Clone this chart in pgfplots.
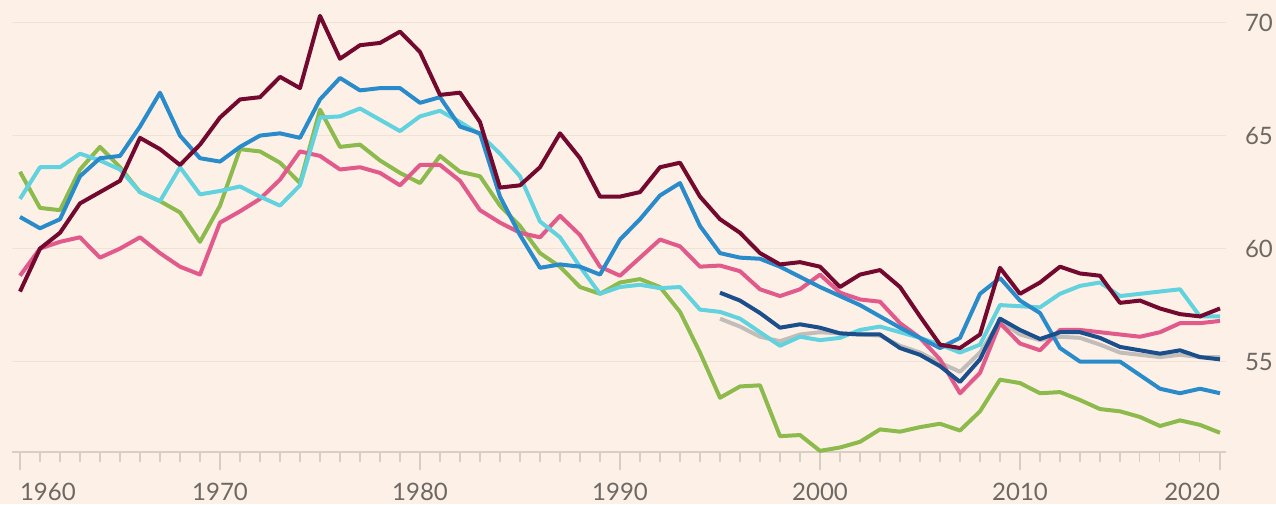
\documentclass[border=0pt]{standalone}
\usepackage{fontspec}
\setmainfont{Lato}
\usepackage{pgfplots}
\pgfplotsset{compat=1.18}
\definecolor{bg}{HTML}{FDF1E7}
\definecolor{gridc}{HTML}{F0E2D6}
\definecolor{tickc}{HTML}{D9CEC4}
\definecolor{txt}{HTML}{6E6864}
\definecolor{cmaroon}{HTML}{74092F}
\definecolor{cblue}{HTML}{2A8BCB}
\definecolor{ccyan}{HTML}{62D2DE}
\definecolor{cpink}{HTML}{E15A8B}
\definecolor{cgreen}{HTML}{8DBA4C}
\definecolor{cnavy}{HTML}{1B4F8C}
\definecolor{cgray}{HTML}{C2BDB9}
\begin{document}
\begin{tikzpicture}[x=1pt,y=1pt]
\fill[bg] (0,0) rectangle (638,252);
\begin{axis}[
  at={(6pt,26pt)}, anchor=south west,
  scale only axis, width=607pt, height=226pt,
  xmin=1959.6, xmax=2020.3, ymin=51, ymax=71,
  clip=false,
  axis x line*=bottom, axis y line*=right,
  y axis line style={draw=none},
  x axis line style={draw=tickc, line width=0.6pt},
  ytick={55,60,65,70},
  ymajorgrids, grid style={color=gridc, line width=0.7pt},
  y tick style={draw=none},
  yticklabel style={anchor=west, xshift=-3pt},
  xtick={1960,1970,...,2020},
  xticklabels={\makebox[0pt][l]{1960},1970,1980,1990,2000,2010,\makebox[0pt][r]{2020}},
  minor xtick={1961,1962,...,2019},
  tick align=outside,
  major tick length=9pt, minor tick length=5pt,
  x tick style={draw=tickc, line width=0.6pt},
  xticklabel style={anchor=north, yshift=-3pt},
  /pgf/number format/assume math mode=true,
  ticklabel style={font=\fontsize{12}{14}\selectfont, text=txt},
  every axis plot/.append style={line width=2pt, line join=round, mark=none},
]
\addplot[cgray] coordinates {
(1995,56.9)(1996,56.55)(1997,56.1)(1998,55.9)(1999,56.2)(2000,56.3)(2001,56.25)(2002,56.2)(2003,56.15)(2004,55.7)(2005,55.4)(2006,54.95)(2007,54.55)(2008,55.4)(2009,56.8)(2010,56.2)(2011,55.95)(2012,56.1)(2013,56.05)(2014,55.75)(2015,55.4)(2016,55.3)(2017,55.2)(2018,55.3)(2019,55.2)(2020,55.2)};
\addplot[cgreen] coordinates {
(1960,63.4)(1961,61.8)(1962,61.7)(1963,63.5)(1964,64.5)(1965,63.6)(1966,62.5)(1967,62.1)(1968,61.6)(1969,60.3)(1970,61.9)(1971,64.4)(1972,64.3)(1973,63.8)(1974,62.9)(1975,66.15)(1976,64.5)(1977,64.6)(1978,63.9)(1979,63.35)(1980,62.9)(1981,64.1)(1982,63.4)(1983,63.2)(1984,61.9)(1985,61.0)(1986,59.8)(1987,59.2)(1988,58.3)(1989,58.0)(1990,58.5)(1991,58.65)(1992,58.3)(1993,57.2)(1994,55.4)(1995,53.4)(1996,53.9)(1997,53.95)(1998,51.7)(1999,51.75)(2000,51.05)(2001,51.2)(2002,51.45)(2003,52.0)(2004,51.9)(2005,52.1)(2006,52.25)(2007,51.95)(2008,52.8)(2009,54.2)(2010,54.05)(2011,53.6)(2012,53.65)(2013,53.3)(2014,52.9)(2015,52.8)(2016,52.55)(2017,52.15)(2018,52.4)(2019,52.2)(2020,51.85)};
\addplot[cpink] coordinates {
(1960,58.8)(1961,60.0)(1962,60.3)(1963,60.5)(1964,59.6)(1965,60.0)(1966,60.5)(1967,59.8)(1968,59.2)(1969,58.85)(1970,61.15)(1971,61.65)(1972,62.2)(1973,63.05)(1974,64.3)(1975,64.1)(1976,63.5)(1977,63.6)(1978,63.35)(1979,62.8)(1980,63.7)(1981,63.7)(1982,63.0)(1983,61.7)(1984,61.15)(1985,60.7)(1986,60.5)(1987,61.45)(1988,60.6)(1989,59.2)(1990,58.8)(1991,59.6)(1992,60.4)(1993,60.1)(1994,59.2)(1995,59.25)(1996,59.0)(1997,58.2)(1998,57.9)(1999,58.2)(2000,58.85)(2001,58.05)(2002,57.75)(2003,57.65)(2004,56.7)(2005,56.05)(2006,55.1)(2007,53.6)(2008,54.5)(2009,56.7)(2010,55.8)(2011,55.5)(2012,56.4)(2013,56.4)(2014,56.3)(2015,56.2)(2016,56.1)(2017,56.3)(2018,56.7)(2019,56.7)(2020,56.8)};
\addplot[ccyan] coordinates {
(1960,62.2)(1961,63.6)(1962,63.6)(1963,64.2)(1964,63.9)(1965,63.5)(1966,62.5)(1967,62.1)(1968,63.6)(1969,62.4)(1970,62.55)(1971,62.75)(1972,62.3)(1973,61.9)(1974,62.8)(1975,65.8)(1976,65.85)(1977,66.2)(1978,65.7)(1979,65.2)(1980,65.85)(1981,66.1)(1982,65.6)(1983,65.05)(1984,64.2)(1985,63.2)(1986,61.2)(1987,60.5)(1988,59.2)(1989,58.0)(1990,58.3)(1991,58.4)(1992,58.25)(1993,58.3)(1994,57.3)(1995,57.2)(1996,56.9)(1997,56.3)(1998,55.7)(1999,56.1)(2000,55.95)(2001,56.05)(2002,56.4)(2003,56.55)(2004,56.3)(2005,56.05)(2006,55.75)(2007,55.4)(2008,55.75)(2009,57.5)(2010,57.45)(2011,57.4)(2012,58.0)(2013,58.35)(2014,58.5)(2015,57.9)(2016,58.0)(2017,58.1)(2018,58.2)(2019,57.0)(2020,57.0)};
\addplot[cblue] coordinates {
(1960,61.4)(1961,60.9)(1962,61.3)(1963,63.2)(1964,64.0)(1965,64.1)(1966,65.4)(1967,66.9)(1968,65.0)(1969,64.0)(1970,63.85)(1971,64.5)(1972,65.0)(1973,65.1)(1974,64.9)(1975,66.6)(1976,67.55)(1977,67.0)(1978,67.1)(1979,67.1)(1980,66.45)(1981,66.7)(1982,65.4)(1983,65.1)(1984,62.3)(1985,60.6)(1986,59.15)(1987,59.3)(1988,59.2)(1989,58.85)(1990,60.4)(1991,61.3)(1992,62.35)(1993,62.9)(1994,61.0)(1995,59.8)(1996,59.6)(1997,59.55)(1998,59.2)(1999,58.75)(2000,58.3)(2001,57.9)(2002,57.5)(2003,57.0)(2004,56.5)(2005,56.05)(2006,55.6)(2007,56.05)(2008,58.0)(2009,58.7)(2010,57.7)(2011,57.15)(2012,55.6)(2013,55.0)(2014,55.0)(2015,55.0)(2016,54.4)(2017,53.8)(2018,53.6)(2019,53.8)(2020,53.6)};
\addplot[cnavy] coordinates {
(1995,58.05)(1996,57.7)(1997,57.15)(1998,56.5)(1999,56.65)(2000,56.5)(2001,56.25)(2002,56.2)(2003,56.2)(2004,55.6)(2005,55.3)(2006,54.8)(2007,54.1)(2008,55.1)(2009,56.9)(2010,56.4)(2011,56.0)(2012,56.3)(2013,56.3)(2014,56.05)(2015,55.65)(2016,55.5)(2017,55.35)(2018,55.5)(2019,55.2)(2020,55.1)};
\addplot[cmaroon] coordinates {
(1960,58.1)(1961,60.0)(1962,60.7)(1963,62.0)(1964,62.5)(1965,63.0)(1966,64.9)(1967,64.4)(1968,63.7)(1969,64.6)(1970,65.8)(1971,66.6)(1972,66.7)(1973,67.6)(1974,67.1)(1975,70.3)(1976,68.4)(1977,69.0)(1978,69.1)(1979,69.6)(1980,68.7)(1981,66.8)(1982,66.9)(1983,65.6)(1984,62.7)(1985,62.8)(1986,63.6)(1987,65.1)(1988,64.0)(1989,62.3)(1990,62.3)(1991,62.5)(1992,63.6)(1993,63.8)(1994,62.3)(1995,61.3)(1996,60.7)(1997,59.8)(1998,59.3)(1999,59.4)(2000,59.2)(2001,58.3)(2002,58.85)(2003,59.05)(2004,58.3)(2005,57.0)(2006,55.75)(2007,55.6)(2008,56.2)(2009,59.15)(2010,58.0)(2011,58.5)(2012,59.2)(2013,58.9)(2014,58.8)(2015,57.6)(2016,57.7)(2017,57.35)(2018,57.1)(2019,57.0)(2020,57.35)};
\end{axis}
\pgfresetboundingbox
\useasboundingbox (0,0) rectangle (638,252);
\end{tikzpicture}
\end{document}
